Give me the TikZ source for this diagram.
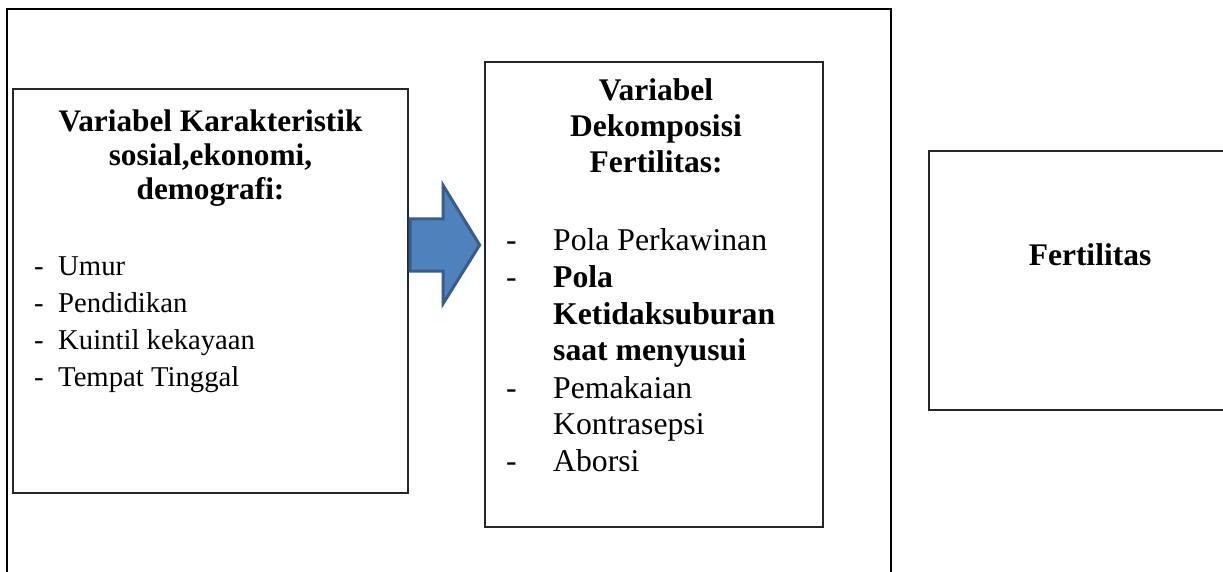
\documentclass[tikz,border=0pt]{standalone}
\usepackage{fontspec}
\setmainfont{Liberation Serif}
\usetikzlibrary{calc}
\begin{document}
\begin{tikzpicture}[x=1pt,y=-1pt,
  frame/.style={draw=black,line width=1.3pt},
  box/.style={draw=black!85,line width=1.3pt,fill=white},
  tbig/.style={inner sep=0pt,anchor=base,font=\fontsize{31.5}{36}\selectfont\bfseries},
  tbl/.style={inner sep=0pt,anchor=base,font=\fontsize{31.3}{36}\selectfont\bfseries},
  lsm/.style={inner sep=0pt,anchor=base west,font=\fontsize{28.7}{33}\selectfont},
  lmid/.style={inner sep=0pt,anchor=base west,font=\fontsize{31.7}{36}\selectfont},
  lmidb/.style={inner sep=0pt,anchor=base west,font=\fontsize{31.7}{36}\selectfont\bfseries},
  blockarrow/.style={fill=arrowfill,draw=arrowline,line width=3pt,line join=miter}]
\definecolor{arrowfill}{HTML}{4F81BD}
\definecolor{arrowline}{HTML}{385D8A}
\useasboundingbox (0,0) rectangle (1223,572);
% outer frame
\draw[frame] (7,9) rectangle (891,590);
% boxes
\node[box,minimum width=395,minimum height=404,inner sep=0pt] (L) at (210.5,291) {};
\node[box,minimum width=338,minimum height=465,inner sep=0pt] (M) at (654,294.5) {};
\node[box,minimum width=320,minimum height=259,inner sep=0pt] (R) at (1089,280.5) {};
% block arrow
\coordinate (a0) at (L.east |- 0,245);
\draw[blockarrow] ($(a0)+(1.5,-26)$) -- ++(33,0) -- ++(0,-33.5) -- ($(a0)+(71,0)$) -- ($(a0)+(34.5,58.5)$) -- ++(0,-32.5) -- ($(a0)+(1.5,26)$) -- cycle;
% left box text
\node[tbl] (l1) at (210.5,132) {Variabel Karakteristik};
\node[tbl] (l2) at (210.5,166) {sosial,ekonomi,};
\node[tbl] (l3) at (210.5,200) {demografi:};
\node[lsm] (d1) at (34,275) {-};
\node[lsm] (u1) at (58,275) {Umur};
\node[lsm] (d2) at (34,312) {-};
\node[lsm] (u2) at (58,312) {Pendidikan};
\node[lsm] (d3) at (34,349) {-};
\node[lsm] (u3) at (58,349) {Kuintil kekayaan};
\node[lsm] (d4) at (34,386) {-};
\node[lsm] (u4) at (58,386) {Tempat Tinggal};
% middle box text
\node[tbig] (m1) at (656,101) {Variabel};
\node[tbig] (m2) at (656,137) {Dekomposisi};
\node[tbig] (m3) at (656,173) {Fertilitas:};
\node[lmid] (e1) at (506,251) {-};
\node[lmid] (v1) at (553,251) {Pola Perkawinan};
\node[lmid] (e2) at (506,287) {-};
\node[lmidb] (v2) at (553,287) {Pola};
\node[lmidb] (v3) at (553,324) {Ketidaksuburan};
\node[lmidb] (v4) at (553,360) {saat menyusui};
\node[lmid] (e3) at (506,398) {-};
\node[lmid] (v5) at (553,398) {Pemakaian};
\node[lmid] (v6) at (553,434) {Kontrasepsi};
\node[lmid] (e4) at (506,471) {-};
\node[lmid] (v7) at (553,471) {Aborsi};
% right box text
\node[tbig] (f1) at (1090,265) {Fertilitas};
\end{tikzpicture}
\end{document}
